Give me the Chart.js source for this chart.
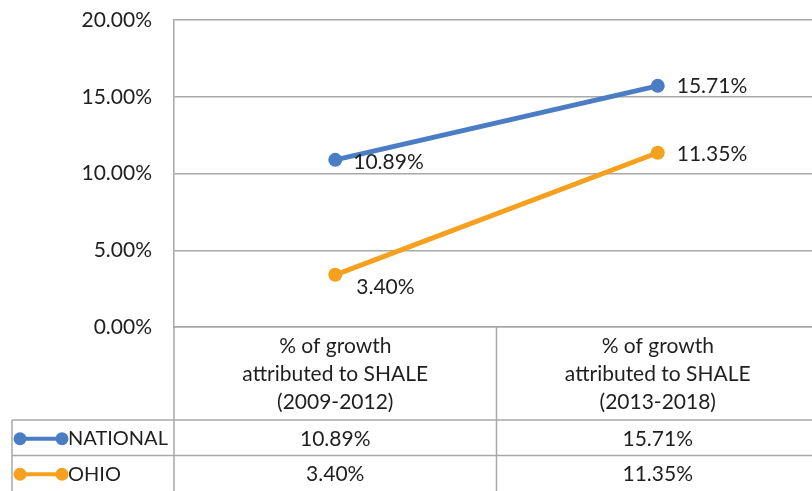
<!DOCTYPE html>
<html>
<head>
<meta charset="utf-8">
<script src="https://cdn.jsdelivr.net/npm/chart.js@4.4.1/dist/chart.umd.min.js"></script>
<style>
html,body{margin:0;padding:0;background:#fff;overflow:hidden;width:812px;height:491px;}
#wrap{position:relative;width:826px;height:491px;}
</style>
</head>
<body>
<div id="wrap"><canvas id="c" width="826" height="491"></canvas></div>
<script>
const categories = [
  ['% of growth', 'attributed to SHALE', '(2009-2012)'],
  ['% of growth', 'attributed to SHALE', '(2013-2018)']
];
const seriesNames = ['NATIONAL', 'OHIO'];
const nationalValues = [10.89, 15.71];
const ohioValues = [3.40, 11.35];
const yTicks = [0, 5, 10, 15, 20];

const BLUE = '#4A7DC4';
const ORANGE = '#F5A11F';
const GRID = '#A8A8A8';
const TXT = '#1F1F1F';
const FONT = 'Lato, "Open Sans", sans-serif';
const FS = 21;

// label placement offsets (style, not data): [dx, dy] per point
const labelOffsets = [
  [[18, 2], [19, 0]],
  [[21, 12], [19, 1]]
];

const fmt = v => v.toFixed(2) + '%';

const tablePlugin = {
  id: 'tablePlugin',
  afterDraw(chart) {
    const ctx = chart.ctx;
    const ca = chart.chartArea;
    const x = chart.scales.x;
    const rowTop = 420, rowH = 35.5, tableLeft = 12;
    ctx.save();
    ctx.strokeStyle = GRID;
    ctx.lineWidth = 1.5;
    ctx.beginPath();
    ctx.moveTo(tableLeft, rowTop); ctx.lineTo(chart.width, rowTop);
    ctx.moveTo(tableLeft, rowTop + rowH); ctx.lineTo(chart.width, rowTop + rowH);
    ctx.moveTo(tableLeft, rowTop); ctx.lineTo(tableLeft, chart.height);
    ctx.moveTo(ca.left, ca.bottom); ctx.lineTo(ca.left, chart.height);
    const mid = (x.getPixelForValue(0) + x.getPixelForValue(1)) / 2;
    ctx.moveTo(mid, ca.bottom); ctx.lineTo(mid, chart.height);
    ctx.moveTo(ca.right - 0.5, ca.bottom); ctx.lineTo(ca.right - 0.5, chart.height);
    ctx.stroke();

    const sets = chart.data.datasets;
    ctx.textBaseline = 'middle';
    sets.forEach((ds, i) => {
      const cy = rowTop + rowH * i + rowH / 2 + 1;
      ctx.strokeStyle = ds.borderColor;
      ctx.lineWidth = 4;
      ctx.beginPath(); ctx.moveTo(20, cy); ctx.lineTo(62, cy); ctx.stroke();
      ctx.fillStyle = ds.borderColor;
      [20, 62].forEach(px => { ctx.beginPath(); ctx.arc(px, cy, 6.5, 0, Math.PI * 2); ctx.fill(); });
      ctx.fillStyle = TXT;
      ctx.textAlign = 'left';
      ctx.font = '20px ' + FONT;
      ctx.fillText(ds.label, 68, cy);
      ctx.textAlign = 'center';
      ctx.font = FS + 'px ' + FONT;
      ds.data.forEach((v, j) => {
        ctx.fillText(fmt(v), x.getPixelForValue(j), cy);
      });
    });

    ctx.textAlign = 'left';
    ctx.font = FS + 'px ' + FONT;
    sets.forEach((ds, i) => {
      const meta = chart.getDatasetMeta(i);
      meta.data.forEach((pt, j) => {
        const off = labelOffsets[i][j];
        ctx.fillText(fmt(ds.data[j]), pt.x + off[0], pt.y + off[1]);
      });
    });
    ctx.restore();
  }
};

new Chart(document.getElementById('c'), {
  type: 'line',
  data: {
    labels: categories,
    datasets: [
      { label: seriesNames[0], data: nationalValues, borderColor: BLUE, backgroundColor: BLUE,
        borderWidth: 5, pointRadius: 7, pointBackgroundColor: BLUE, pointBorderWidth: 0 },
      { label: seriesNames[1], data: ohioValues, borderColor: ORANGE, backgroundColor: ORANGE,
        borderWidth: 5, pointRadius: 7, pointBackgroundColor: ORANGE, pointBorderWidth: 0 }
    ]
  },
  options: {
    responsive: false,
    animation: false,
    devicePixelRatio: 1,
    layout: { padding: { top: 20, bottom: 71, left: 0, right: 0 } },
    plugins: { legend: { display: false }, tooltip: { enabled: false } },
    scales: {
      x: {
        offset: true,
        grid: { display: false, drawTicks: false },
        border: { display: true, color: GRID, width: 1.5 },
        ticks: { color: TXT, font: { family: FONT, size: FS, lineHeight: 1.34 }, padding: 5, maxRotation: 0, autoSkip: false },
        afterFit: s => { s.height = 93; s.paddingLeft = 0; s.paddingRight = 0; s.paddingTop = 0; s.paddingBottom = 0; }
      },
      y: {
        min: 0, max: 20,
        afterBuildTicks: s => { s.ticks = yTicks.map(v => ({ value: v })); },
        grid: { color: GRID, lineWidth: 1.5, drawTicks: false },
        border: { display: true, color: GRID, width: 1.5 },
        ticks: { color: TXT, font: { family: FONT, size: FS }, padding: 22, callback: v => fmt(v) },
        afterFit: s => { s.width = 174; s.paddingTop = 0; s.paddingBottom = 0; s.paddingLeft = 0; s.paddingRight = 0; }
      }
    }
  },
  plugins: [tablePlugin]
});
</script>
</body>
</html>
